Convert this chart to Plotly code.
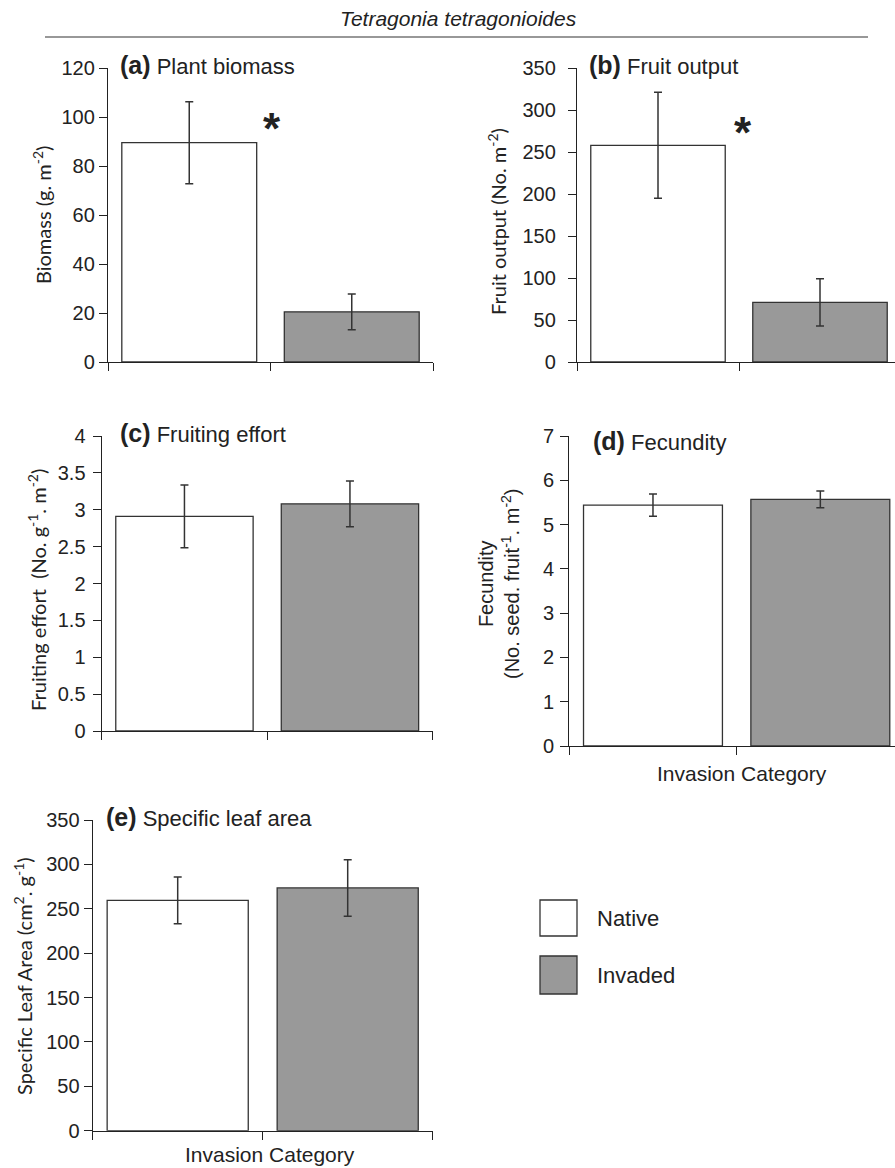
import plotly.graph_objects as go

# ---------------- data ----------------
categories = ["Native", "Invaded"]
bar_colors = ["#ffffff", "#999999"]

biomass_mean = [89.5, 20.5]
biomass_se = [16.7, 7.3]

fruit_mean = [258, 71]
fruit_se = [63, 28]

effort_mean = [2.91, 3.08]
effort_se = [0.425, 0.31]

fecundity_mean = [5.44, 5.57]
fecundity_se = [0.25, 0.19]

sla_mean = [259.5, 273.5]
sla_se = [26.3, 31.8]

W, H = 895, 1168

def xd(a, b):
    return [a / W, min(b / W, 1.0)]

def yd(top, bottom):
    return [1 - bottom / H, 1 - top / H]

def xrange_for(a, b):
    if b <= W:
        return [-0.5, 1.5]
    return [-0.5, -0.5 + 2 * (W - a) / (b - a)]

panels = [
    dict(mean=biomass_mean, se=biomass_se, xp=(108, 433), yp=(68, 362), ymax=120, dtick=20, so=0),
    dict(mean=fruit_mean, se=fruit_se, xp=(577, 901), yp=(68, 362), ymax=350, dtick=50, so=8),
    dict(mean=effort_mean, se=effort_se, xp=(101.7, 432.7), yp=(436, 731), ymax=4, dtick=0.5, so=3),
    dict(mean=fecundity_mean, se=fecundity_se, xp=(569.3, 904), yp=(436, 746), ymax=7, dtick=1, so=2),
    dict(mean=sla_mean, se=sla_se, xp=(92.7, 432.7), yp=(820, 1130.7), ymax=350, dtick=50, so=0),
]

AX = "#222222"
fig = go.Figure()
layout = {}
for i, p in enumerate(panels, start=1):
    xa = "x" if i == 1 else f"x{i}"
    ya = "y" if i == 1 else f"y{i}"
    fig.add_trace(go.Bar(
        x=categories, y=p["mean"], xaxis=xa, yaxis=ya, width=0.83,
        marker=dict(color=bar_colors, line=dict(color="#333333", width=1.3)),
        error_y=dict(type="data", array=p["se"], color="#333333", thickness=1.5, width=4),
        showlegend=False, hoverinfo="skip",
    ))
    xk = "xaxis" if i == 1 else f"xaxis{i}"
    yk = "yaxis" if i == 1 else f"yaxis{i}"
    layout[xk] = dict(
        domain=xd(*p["xp"]), range=xrange_for(*p["xp"]), type="category",
        anchor=ya, showline=True, linecolor=AX, linewidth=1.3,
        ticks="outside", tickson="boundaries", ticklen=8, tickcolor=AX, tickwidth=1.3,
        showticklabels=False, showgrid=False, zeroline=False, fixedrange=True,
        automargin=False,
    )
    layout[yk] = dict(
        domain=yd(*p["yp"]), range=[0, p["ymax"]], anchor=xa,
        showline=True, linecolor=AX, linewidth=1.3,
        ticks="outside", ticklen=8, tickcolor=AX, tickwidth=1.3,
        dtick=p["dtick"], tick0=0, showgrid=False, zeroline=False,
        tickfont=dict(family="Liberation Sans, Arial, sans-serif", size=20, color=AX),
        ticklabelstandoff=p["so"],
        fixedrange=True, automargin=False,
    )

fig.update_layout(**layout)

ann = []
def A(text, x, y, size, family="Liberation Sans, Arial, sans-serif", xanchor="center",
      yanchor="middle", angle=0, color=AX):
    ann.append(dict(text=text, x=x / W, y=1 - y / H, xref="paper", yref="paper",
                    showarrow=False, xanchor=xanchor, yanchor=yanchor, textangle=angle,
                    font=dict(family=family, size=size, color=color)))

# title
A("<i>Tetragonia tetragonioides</i>", 459, 19, 21)

# panel labels
labels = [("(a)", "Plant biomass", 118, 65), ("(b)", "Fruit output", 587, 65),
          ("(c)", "Fruiting effort", 118, 433), ("(d)", "Fecundity", 591, 441),
          ("(e)", "Specific leaf area", 104, 817)]
for tag, name, x, y in labels:
    A(f"<b><span style='font-size:25px'>{tag}</span></b> {name}", x, y, 22, xanchor="left")

# asterisks
A("<b>*</b>", 272, 128, 44)
A("<b>*</b>", 743, 133, 44)

CAL = "Lato, Carlito, sans-serif"
A("Biomass (g. m<sup>-2</sup>)", 42, 215, 20, family=CAL, angle=-90)
A("Fruit output (No. m<sup>-2</sup>)", 497, 222, 20, family=CAL, angle=-90)
A("Fruiting effort  (No. g<sup>-1</sup>. m<sup>-2</sup>)", 37, 590, 20, family=CAL, angle=-90)
A("Fecundity<br>(No. seed. fruit<sup>-1</sup>. m<sup>-2</sup>)", 499, 584, 20, angle=-90)
A("Specific Leaf Area (cm<sup>2</sup>. g<sup>-1</sup>)", 23, 976, 20, family=CAL, angle=-90)

# x-axis titles
A("Invasion Category", 742, 773, 21)
A("Invasion Category", 270, 1154, 21)

# legend text
A("Native", 595, 918, 22, xanchor="left")
A("Invaded", 595, 975, 22, xanchor="left")

shapes = [
    dict(type="line", xref="paper", yref="paper", x0=45 / W, x1=868 / W,
         y0=1 - 37 / H, y1=1 - 37 / H, line=dict(color="#333333", width=1.2)),
    dict(type="rect", xref="paper", yref="paper", x0=540 / W, x1=577 / W,
         y0=1 - 936 / H, y1=1 - 900 / H, fillcolor="#ffffff",
         line=dict(color="#333333", width=1.3)),
    dict(type="rect", xref="paper", yref="paper", x0=540 / W, x1=577 / W,
         y0=1 - 994 / H, y1=1 - 956 / H, fillcolor="#999999",
         line=dict(color="#333333", width=1.3)),
]

fig.update_layout(
    width=W, height=H, margin=dict(l=0, r=0, t=0, b=0, pad=0, autoexpand=False),
    paper_bgcolor="white", plot_bgcolor="white",
    bargap=0.17, annotations=ann, shapes=shapes, showlegend=False,
)

post = (
    "document.documentElement.style.margin='0';"
    "document.body.style.margin='0';"
    "document.body.style.overflow='hidden';"
)

fig.write_html("out.html", config={"displayModeBar": False}, post_script=post)
